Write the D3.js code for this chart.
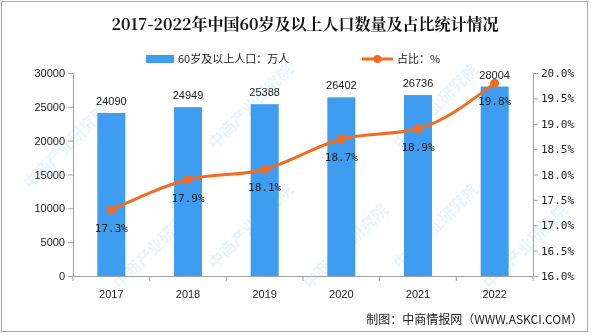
<!DOCTYPE html>
<html><head><meta charset="utf-8">
<script src="https://cdn.jsdelivr.net/npm/d3@7"></script>
<style>body{margin:0;background:#fff}svg{display:block}</style>
</head><body><svg id="c" width="600" height="335"></svg>
<script>
const years = ["2017","2018","2019","2020","2021","2022"];
const population = [24090, 24949, 25388, 26402, 26736, 28004];
const share = [17.3, 17.9, 18.1, 18.7, 18.9, 19.8];
const leftTicks = [0,5000,10000,15000,20000,25000,30000];
const rightTicks = [16.0,16.5,17.0,17.5,18.0,18.5,19.0,19.5,20.0];
const title = "2017-2022年中国60岁及以上人口数量及占比统计情况";
const legendBar = "60岁及以上人口：万人";
const legendLine = "占比：%";
const source = "制图：中商情报网（WWW.ASKCI.COM）";

const svg = d3.select("#c");
const font = "'Noto Sans CJK SC','Liberation Sans',sans-serif";
const blue = "#3e9df0", orange = "#f26b22", axisC = "#a0a0a0";
const m = {l:73, r:533, t:73, b:276};

// border
svg.append("rect").attr("x",1.5).attr("y",1.5).attr("width",586).attr("height",330)
  .attr("fill","none").attr("stroke","#a8a8a8").attr("stroke-width",1);

// watermarks (kept inside the frame)
const wm = svg.append("g").attr("fill","#d6e8f7").attr("opacity",0.5)
  .style("font-family",font).style("font-size","16px").style("font-weight","bold");
[[30,190],[215,150],[400,150],[120,290],[310,290],[490,290],[215,270],[400,270]].forEach(([x,y])=>{
  wm.append("text").attr("transform",`translate(${x},${y}) rotate(-45)`).text("中商产业研究院");
});

const x = d3.scaleBand().domain(years).range([m.l,m.r]);
const yL = d3.scaleLinear().domain([0,30000]).range([m.b,m.t]);
const yR = d3.scaleLinear().domain([16,20]).range([m.b,m.t]);

// title
svg.append("text").attr("x",305).attr("y",30).attr("text-anchor","middle")
  .style("font-family","'Noto Serif CJK SC','Noto Sans CJK SC',serif").style("font-size","16px").style("font-weight","bold")
  .attr("fill","#111").text(title);

// legend
svg.append("rect").attr("x",146).attr("y",55).attr("width",28).attr("height",8).attr("fill",blue);
svg.append("text").attr("x",178).attr("y",63).style("font-family",font).style("font-size","11px").attr("fill","#222").text(legendBar);
svg.append("line").attr("x1",362).attr("x2",393).attr("y1",59).attr("y2",59).attr("stroke",orange).attr("stroke-width",3);
svg.append("circle").attr("cx",377.5).attr("cy",59).attr("r",4).attr("fill",orange);
svg.append("text").attr("x",397).attr("y",63).style("font-family",font).style("font-size","11px").attr("fill","#222").text(legendLine);

// axes
const axL = svg.append("g").attr("transform",`translate(${m.l},0)`)
  .call(d3.axisLeft(yL).tickValues(leftTicks).tickSize(5).tickSizeOuter(0).tickFormat(d3.format("d")));
const axR = svg.append("g").attr("transform",`translate(${m.r},0)`)
  .call(d3.axisRight(yR).tickValues(rightTicks).tickSize(5).tickSizeOuter(0).tickFormat(d=>d.toFixed(1)+"%"));
const axB = svg.append("g").attr("transform",`translate(0,${m.b})`)
  .call(d3.axisBottom(x).tickSize(0).tickPadding(14));
svg.append("g").selectAll("line").data(d3.range(7)).join("line")
  .attr("x1",i=>m.l+i*x.step()).attr("x2",i=>m.l+i*x.step())
  .attr("y1",m.b).attr("y2",m.b+5).attr("stroke",axisC);
[axL,axR,axB].forEach(a=>{
  a.selectAll("path,line").attr("stroke",axisC);
  a.selectAll("text").style("font-family","'Liberation Sans',Arial,sans-serif").style("font-size","11px").attr("fill","#222");
});
axR.selectAll("text").style("font-family","'DejaVu Sans Mono',monospace").style("font-size","11px").attr("x",8);
axB.selectAll("text").attr("dy","0.71em");

// bars
const bw = 28;
svg.append("g").selectAll("rect").data(years).join("rect")
  .attr("x",d=>x(d)+x.bandwidth()/2-bw/2).attr("width",bw)
  .attr("y",(d,i)=>yL(population[i])).attr("height",(d,i)=>m.b-yL(population[i]))
  .attr("fill",blue);
svg.append("g").selectAll("text").data(years).join("text")
  .attr("x",d=>x(d)+x.bandwidth()/2).attr("y",(d,i)=>yL(population[i])-8)
  .attr("text-anchor","middle").style("font-family","'Liberation Sans',Arial,sans-serif").style("font-size","11px").attr("fill","#222")
  .text((d,i)=>population[i]);

// line
const pts = years.map((d,i)=>[x(d)+x.bandwidth()/2, yR(share[i])]);
svg.append("path").attr("d",d3.line().curve(d3.curveMonotoneX)(pts))
  .attr("fill","none").attr("stroke",orange).attr("stroke-width",3);
svg.append("g").selectAll("circle").data(pts).join("circle")
  .attr("cx",d=>d[0]).attr("cy",d=>d[1]).attr("r",4.5).attr("fill",orange);
svg.append("g").selectAll("text").data(pts).join("text")
  .attr("x",d=>d[0]).attr("y",d=>d[1]+22).attr("text-anchor","middle")
  .style("font-family","'DejaVu Sans Mono',monospace").style("font-size","11px").attr("fill","#222")
  .text((d,i)=>share[i].toFixed(1)+"%");

// source
svg.append("text").attr("x",583).attr("y",324).attr("text-anchor","end")
  .style("font-family",font).style("font-size","12px").attr("fill","#222").text(source);
</script></body></html>
